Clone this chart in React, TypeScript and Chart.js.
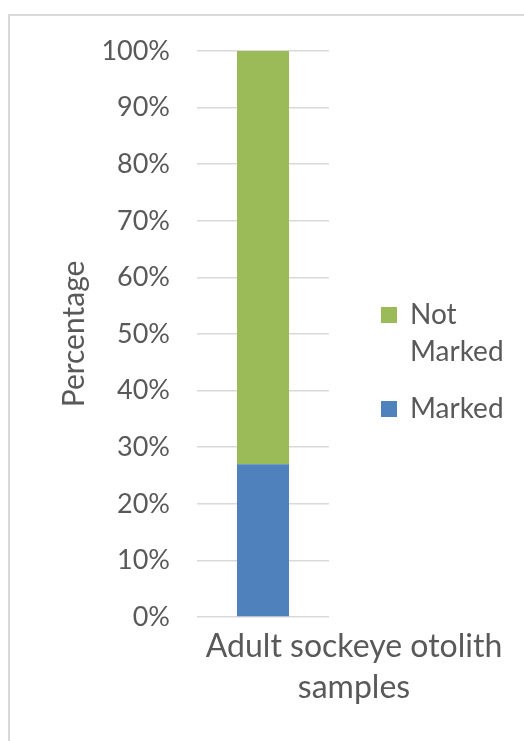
import React, { useEffect, useRef } from "react";
import { Chart, registerables } from "chart.js";

Chart.register(...registerables);

// ---- data ----
const categoryLines: string[][] = [["Adult sockeye otolith", "samples"]];
const seriesNames: string[] = ["Marked", "Not Marked"];
const markedValues: number[] = [27];
const notMarkedValues: number[] = [73];
const seriesColors: string[] = ["#4F81BD", "#9BBB59"];
const yAxisTitle = "Percentage";
const yMin = 0;
const yMax = 100;
const yStep = 10;

// ---- style ----
const FONT = "Lato";
const TEXT = "#595959";
const GRID = "#d9d9d9";
const W = 524;
const H = 741;

const legendPlugin = {
  id: "wrapLegend",
  afterDraw(chart: any) {
    const ctx = chart.ctx as CanvasRenderingContext2D;
    const items = chart.data.datasets
      .map((d: any) => ({ label: d.label as string, color: d.backgroundColor as string }))
      .reverse();
    const boxX = 381;
    const boxSize = 16;
    const textX = 410;
    const maxW = W - textX - 12;
    const lineH = 37;
    const itemGap = 20;
    let y = 315;
    ctx.save();
    ctx.font = `28px ${FONT}`;
    ctx.textBaseline = "middle";
    ctx.textAlign = "left";
    for (const it of items) {
      const words = it.label.split(" ");
      const lines: string[] = [];
      let cur = "";
      for (const w of words) {
        const t = cur ? cur + " " + w : w;
        if (ctx.measureText(t).width > maxW && cur) {
          lines.push(cur);
          cur = w;
        } else cur = t;
      }
      if (cur) lines.push(cur);
      ctx.fillStyle = it.color;
      ctx.fillRect(boxX, y - boxSize / 2, boxSize, boxSize);
      ctx.fillStyle = TEXT;
      lines.forEach((ln, i) => ctx.fillText(ln, textX, y + i * lineH));
      y += lines.length * lineH + itemGap;
    }
    ctx.restore();
  },
};

export default function App() {
  const ref = useRef<HTMLCanvasElement | null>(null);
  useEffect(() => {
    document.body.style.margin = "0";
    const canvas = ref.current!;
    const chart = new Chart(canvas, {
      type: "bar",
      data: {
        labels: categoryLines,
        datasets: [
          {
            label: seriesNames[0],
            data: markedValues,
            backgroundColor: seriesColors[0],
            barPercentage: 1,
            categoryPercentage: 0.394,
          },
          {
            label: seriesNames[1],
            data: notMarkedValues,
            backgroundColor: seriesColors[1],
            barPercentage: 1,
            categoryPercentage: 0.394,
          },
        ],
      },
      options: {
        responsive: false,
        animation: false,
        devicePixelRatio: 1,
        layout: { padding: { top: 51, right: W - 329, bottom: 0, left: 0 } },
        plugins: { legend: { display: false }, tooltip: { enabled: false } },
        scales: {
          x: {
            stacked: true,
            grid: { display: false, drawTicks: false },
            border: { display: false },
            ticks: {
              color: TEXT,
              font: { family: FONT, size: 32, lineHeight: 1.28 },
              padding: 9,
              labelOffset: 91,
              maxRotation: 0,
              autoSkip: false,
            },
            afterFit(scale: any) {
              scale.height = H - 617;
            },
          },
          y: {
            stacked: true,
            min: yMin,
            max: yMax,
            grid: { color: GRID, lineWidth: 1.5, drawTicks: false },
            border: { display: false },
            ticks: {
              stepSize: yStep,
              color: TEXT,
              padding: 27,
              font: { family: FONT, size: 27 },
              callback: (v: any) => `${v}%`,
            },
            title: {
              display: true,
              text: yAxisTitle,
              color: TEXT,
              font: { family: FONT, size: 30, lineHeight: 1.2 },
              padding: { top: 56, bottom: 0 },
            },
            afterFit(scale: any) {
              scale.width = 197;
            },
          },
        },
      },
      plugins: [legendPlugin],
    });
    return () => chart.destroy();
  }, []);

  return (
    <div style={{ position: "fixed", left: 0, top: 0, width: W, height: H, overflow: "hidden", background: "#fff" }}>
      <div
        style={{
          position: "absolute",
          left: 8,
          top: 14,
          width: W + 40,
          height: H + 40,
          border: "2px solid #d9d9d9",
          boxSizing: "border-box",
        }}
      />
      <canvas ref={ref} width={W} height={H} style={{ position: "absolute", left: 0, top: 0, width: W, height: H }} />
    </div>
  );
}
